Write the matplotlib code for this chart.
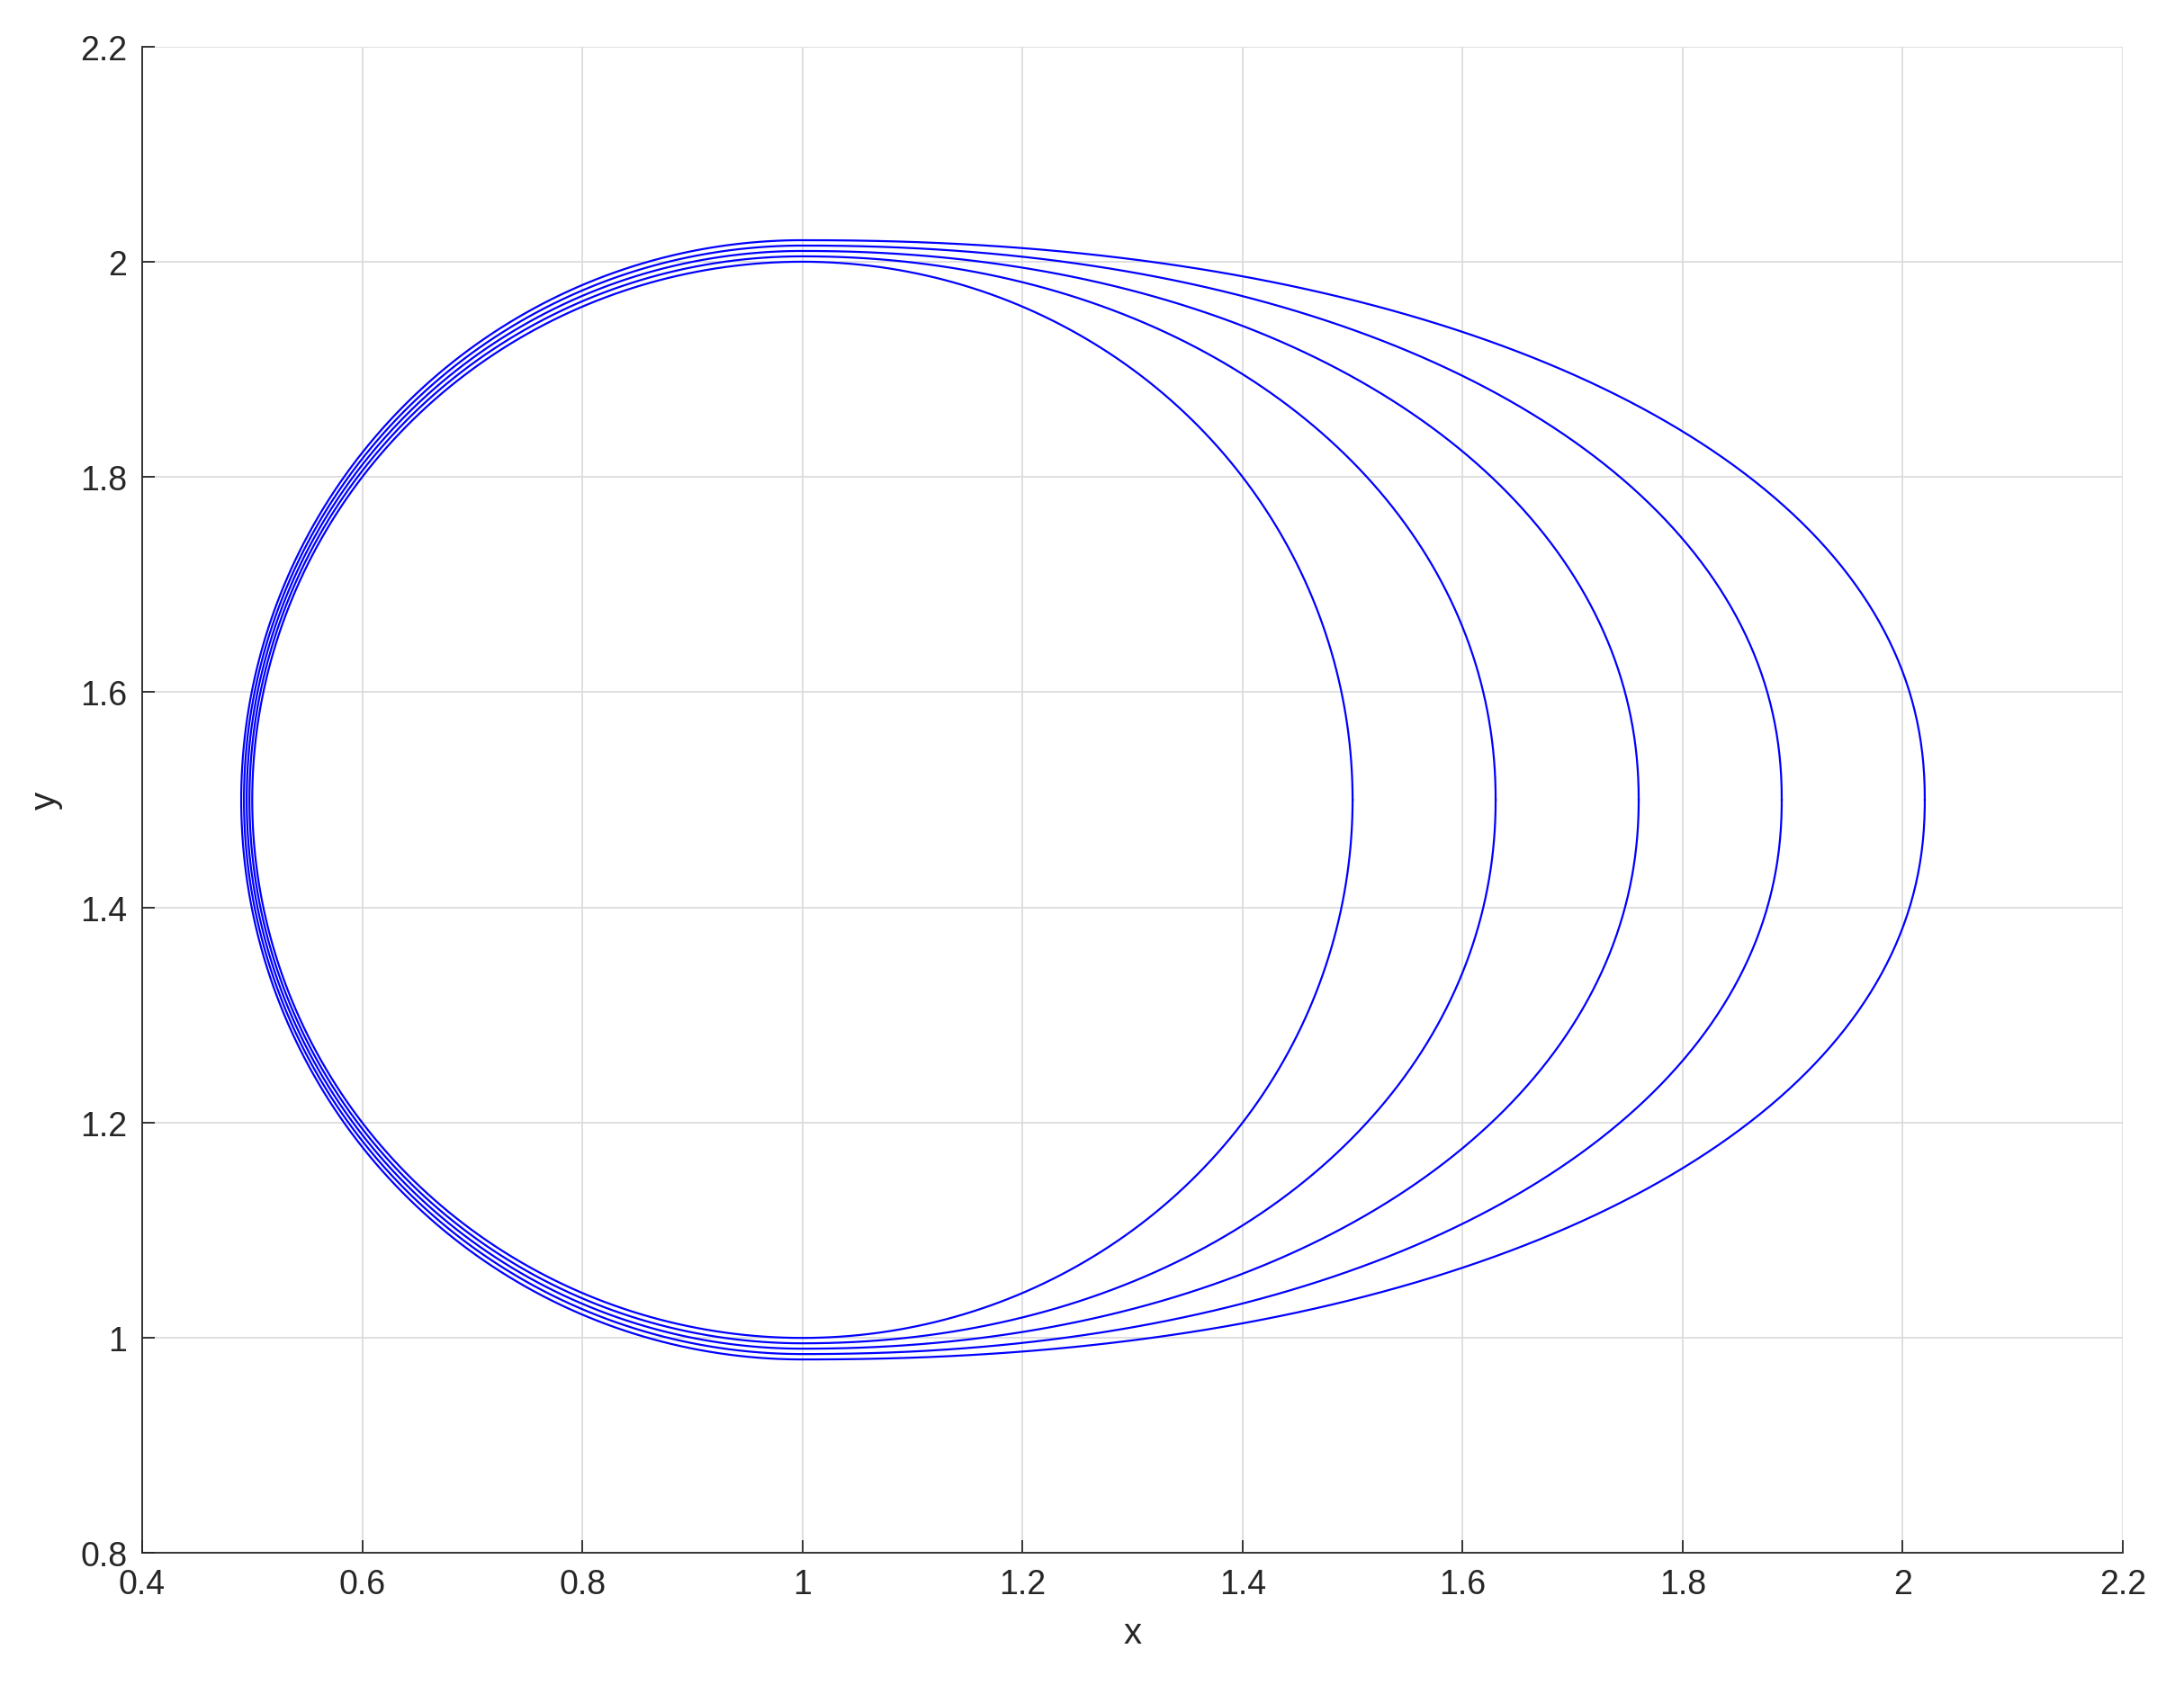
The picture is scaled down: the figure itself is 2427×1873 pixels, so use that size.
import numpy as np
import matplotlib
matplotlib.use("Agg")
import matplotlib.pyplot as plt
from matplotlib.ticker import FuncFormatter

# closed orbits: all centred at (1, 1.5)
x_center = 1.0
y_center = 1.5
left_reach = [0.500, 0.4975, 0.495, 0.4925, 0.490]   # leftmost x of each loop
right_reach = [1.50, 1.63, 1.76, 1.89, 2.02]          # rightmost x of each loop
top_reach = [2.000, 2.005, 2.010, 2.015, 2.020]       # highest y
bottom_reach = [1.000, 0.995, 0.990, 0.985, 0.980]    # lowest y
right_shape = [2.0, 2.05, 2.08, 2.12, 2.15]           # squareness of right half

x_ticks = [0.4, 0.6, 0.8, 1, 1.2, 1.4, 1.6, 1.8, 2, 2.2]
y_ticks = [0.8, 1, 1.2, 1.4, 1.6, 1.8, 2, 2.2]


def loop(xl, xr, yt, yb, p, n=721):
    t = np.linspace(0, 2 * np.pi, n)
    c, s = np.cos(t), np.sin(t)
    # right half squarer than an ellipse, left half plain ellipse
    cr = np.sign(c) * np.abs(c) ** (2.0 / p)
    sr = np.sign(s) * np.abs(s) ** (2.0 / p)
    right = c >= 0
    u = np.where(right, cr, c)
    v = np.where(right, sr, s)
    x = np.where(u >= 0, x_center + u * (xr - x_center), x_center + u * (x_center - xl))
    y = np.where(v >= 0, y_center + v * (yt - y_center), y_center + v * (y_center - yb))
    return x, y


plt.rcParams['font.family'] = ['Liberation Sans', 'DejaVu Sans']
fig = plt.figure(figsize=(24.27, 18.74), dpi=100)
ax = fig.add_axes([0.0651, 0.0782, 0.9069, 0.8937])

for xl, xr, yt, yb, p in zip(left_reach, right_reach, top_reach, bottom_reach, right_shape):
    x, y = loop(xl, xr, yt, yb, p)
    ax.plot(x, y, color=(0, 0, 1), lw=1.6)

ax.set_xlim(0.4, 2.2)
ax.set_ylim(0.8, 2.2)
ax.set_xticks(x_ticks)
ax.set_yticks(y_ticks)
fmt = FuncFormatter(lambda v, pos: '%g' % round(v, 3))
ax.xaxis.set_major_formatter(fmt)
ax.yaxis.set_major_formatter(fmt)

ax.grid(True, color='#dcdcdc', lw=1.3)
ax.set_axisbelow(True)
for side in ['top', 'right']:
    ax.spines[side].set_visible(False)
for side in ['left', 'bottom']:
    ax.spines[side].set_color('#262626')
    ax.spines[side].set_linewidth(1.3)
ax.tick_params(direction='in', length=10, width=1.3, color='#262626',
               labelsize=27, labelcolor='#262626', pad=12)

ax.set_xlabel('x', fontsize=29, color='#262626', labelpad=12)
ax.set_ylabel('y', fontsize=29, color='#262626', labelpad=14)

fig.savefig('out.png', dpi=100)
